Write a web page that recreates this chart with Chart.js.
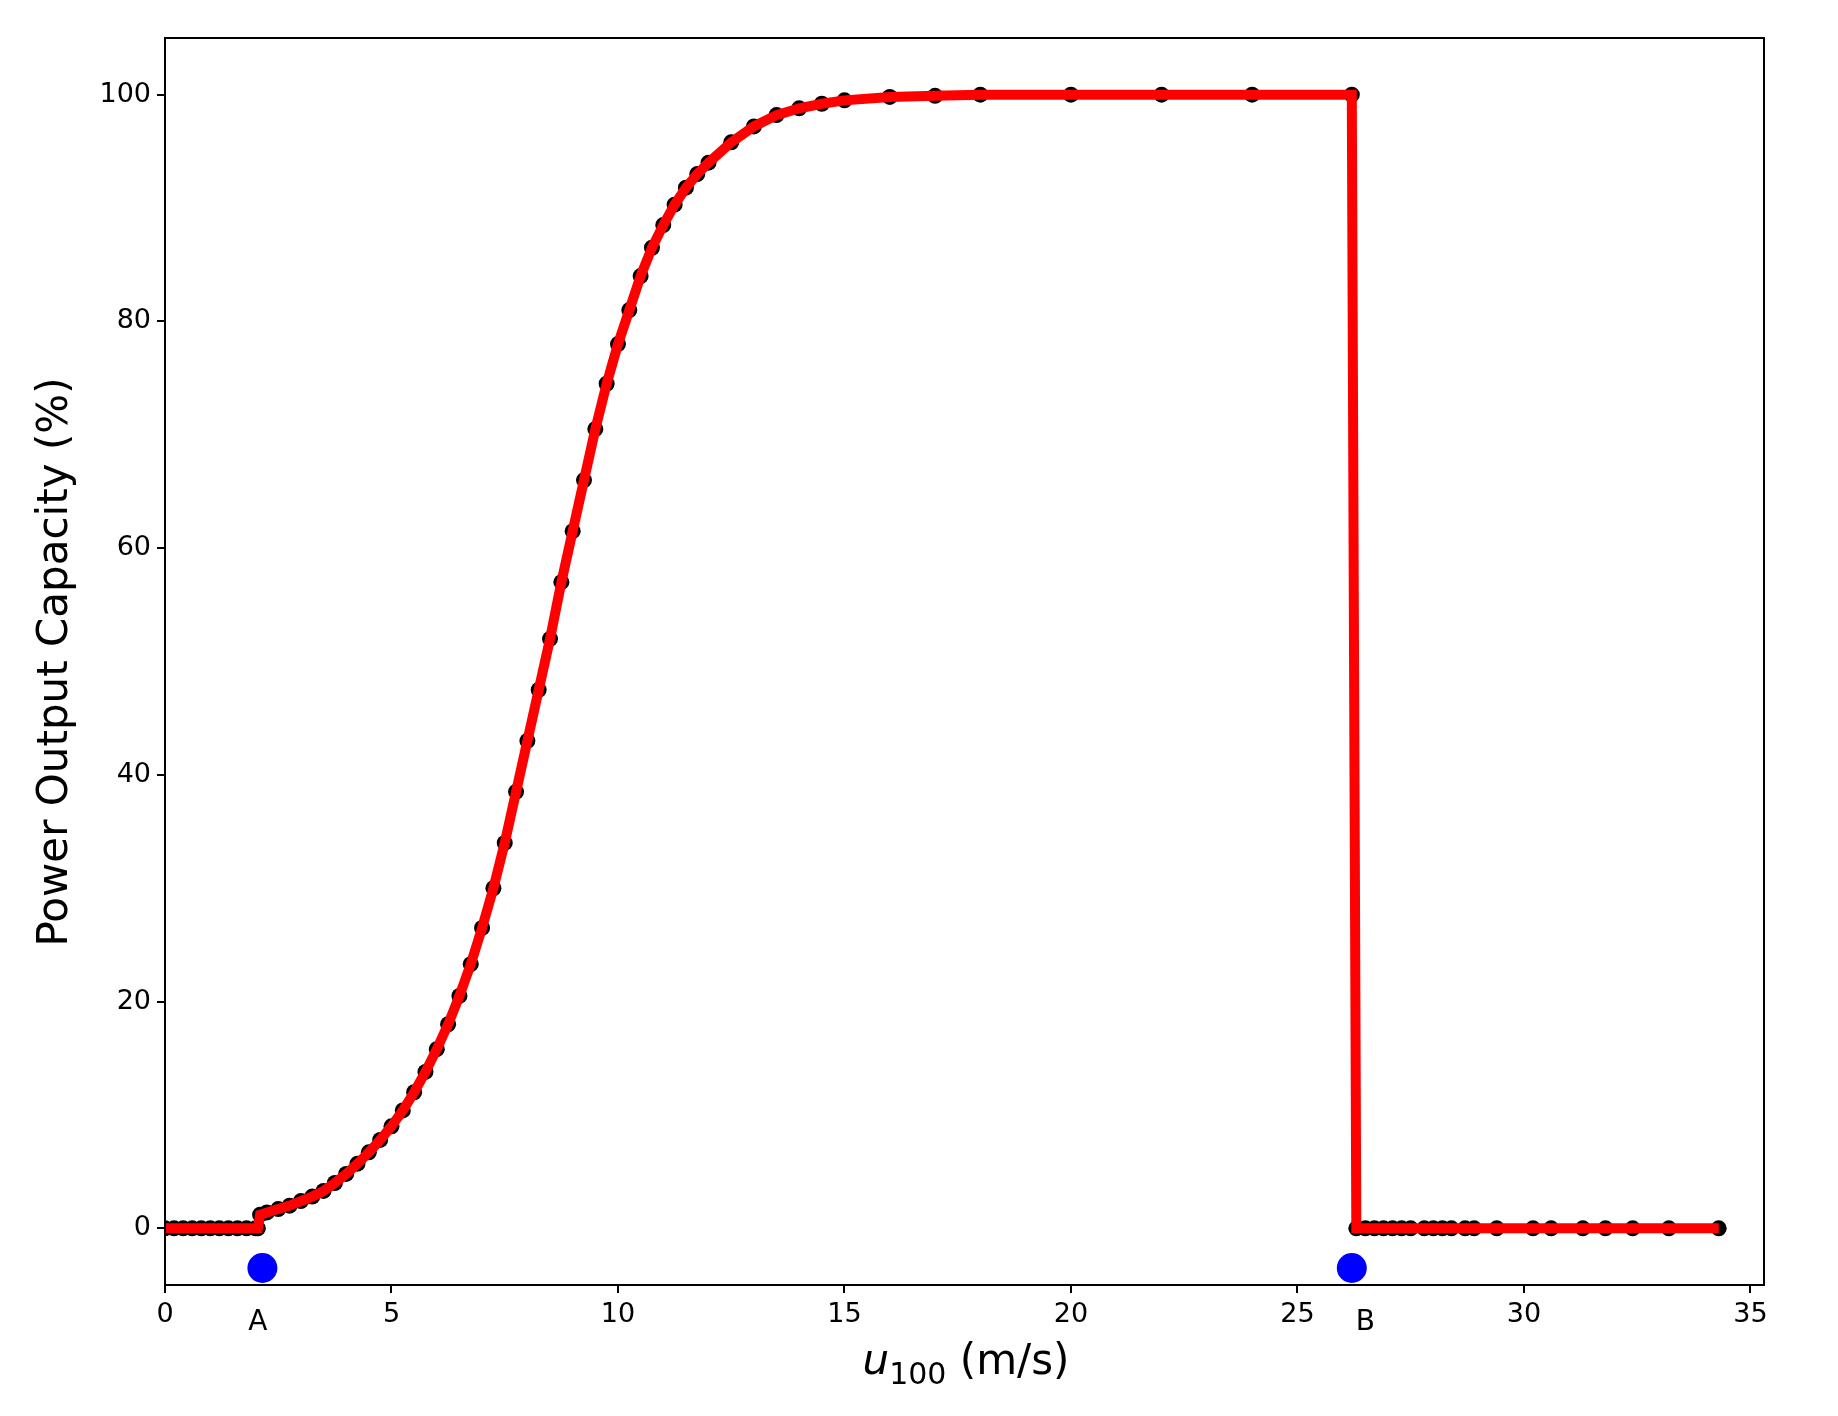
<!DOCTYPE html>
<html><head><meta charset="utf-8">
<script src="https://cdn.jsdelivr.net/npm/chart.js@4"></script>
<style>html,body{margin:0;padding:0;background:#fff}#w{width:1838px;height:1416px}</style>
</head><body><div id="w"><canvas id="c"></canvas></div>
<script>
const curveX = [0,0.2,0.4,0.6,0.8,1.0,1.2,1.4,1.6,1.8,2.0,2.05,2.1,2.25,2.5,2.75,3,3.25,3.5,3.75,4,4.25,4.5,4.75,5,5.25,5.5,5.75,6,6.25,6.5,6.75,7,7.25,7.5,7.75,8,8.25,8.5,8.75,9,9.25,9.5,9.75,10,10.25,10.5,10.75,11,11.25,11.5,11.75,12,12.5,13,13.5,14,14.5,15,16,17,18,20,22,24,26.2,26.3,26.5,26.7,26.9,27.1,27.3,27.5,27.8,28,28.2,28.4,28.7,28.9,29.4,30.2,30.6,31.3,31.8,32.4,33.2,34.3];
const curveY = [0,0,0,0,0,0,0,0,0,0,0,0,1.2,1.4,1.7,2.0,2.4,2.8,3.3,4.0,4.8,5.7,6.7,7.8,9.0,10.4,12.0,13.8,15.8,18.0,20.5,23.3,26.5,30,34,38.5,43,47.5,52,57,61.5,66,70.5,74.5,78,81,84,86.5,88.5,90.3,91.8,93,94,95.8,97.2,98.2,98.8,99.2,99.5,99.8,99.9,100,100,100,100,100,0,0,0,0,0,0,0,0,0,0,0,0,0,0,0,0,0,0,0,0,0];
const markX = [2.15, 26.2];
const markY = [-3.5, -3.5];
const markLabels = ['A','B'];
const markLabelX = [2.05, 26.5];
const xTicks = [0,5,10,15,20,25,30,35];
const yTicks = [0,20,40,60,80,100];

const pts = curveX.map((x,i)=>({x, y:curveY[i]}));
const extras = {
  id:'extras',
  afterDraw(chart){
    const {ctx, chartArea:a, scales:{x}} = chart;
    ctx.save();
    ctx.strokeStyle='#000'; ctx.lineWidth=2;
    ctx.strokeRect(a.left, a.top, a.right-a.left, a.bottom-a.top);
    ctx.fillStyle='#000';
    ctx.font='28px "DejaVu Sans"'; ctx.textAlign='center'; ctx.textBaseline='middle';
    markLabels.forEach((t,i)=>ctx.fillText(t, x.getPixelForValue(markLabelX[i]), 1323));
    ctx.textBaseline='alphabetic';
    const y0=1374;
    ctx.font='italic 42px "DejaVu Sans"';
    const p1='u', p2='100', p3=' (m/s)';
    const w1=ctx.measureText(p1).width;
    ctx.font='30px "DejaVu Sans"'; const w2=ctx.measureText(p2).width;
    ctx.font='42px "DejaVu Sans"'; const w3=ctx.measureText(p3).width;
    let sx=966-(w1+w2+w3)/2;
    ctx.textAlign='left';
    ctx.font='italic 42px "DejaVu Sans"'; ctx.fillText(p1,sx,y0); sx+=w1;
    ctx.font='30px "DejaVu Sans"'; ctx.fillText(p2,sx,y0+10); sx+=w2;
    ctx.font='42px "DejaVu Sans"'; ctx.fillText(p3,sx,y0);
    ctx.translate(56,662); ctx.rotate(-Math.PI/2);
    ctx.textAlign='center'; ctx.textBaseline='middle';
    ctx.fillText('Power Output Capacity (%)',0,0);
    ctx.restore();
  }
};
new Chart(document.getElementById('c'),{
  type:'scatter',
  data:{datasets:[
    {data:markX.map((x,i)=>({x,y:markY[i]})), backgroundColor:'#0000ff', borderWidth:0, pointRadius:15, order:0},
    {data:pts, showLine:true, borderColor:'#ff0000', borderWidth:10, pointRadius:0, order:1},
    {data:pts, showLine:false, backgroundColor:'#000', borderWidth:0, pointRadius:8, order:2}
  ]},
  options:{
    responsive:true, maintainAspectRatio:false, animation:false,
    layout:{padding:{left:0,top:38,right:74,bottom:0}},
    plugins:{legend:{display:false},tooltip:{enabled:false}},
    scales:{
      x:{type:'linear',min:0,max:35.3,
        afterFit(s){s.height=131;},
        afterBuildTicks(s){s.ticks=xTicks.map(v=>({value:v}));},
        grid:{drawOnChartArea:false,drawTicks:true,tickLength:8,color:'#000',lineWidth:2},
        border:{color:'#000',width:2},
        ticks:{color:'#000',font:{family:'DejaVu Sans',size:27},padding:6,maxRotation:0}},
      y:{type:'linear',min:-5,max:105,
        afterFit(s){s.width=165;},
        afterBuildTicks(s){s.ticks=yTicks.map(v=>({value:v}));},
        grid:{drawOnChartArea:false,drawTicks:true,tickLength:8,color:'#000',lineWidth:2},
        border:{color:'#000',width:2},
        ticks:{color:'#000',font:{family:'DejaVu Sans',size:27},padding:6}}
    }
  },
  plugins:[extras]
});
</script></body></html>
